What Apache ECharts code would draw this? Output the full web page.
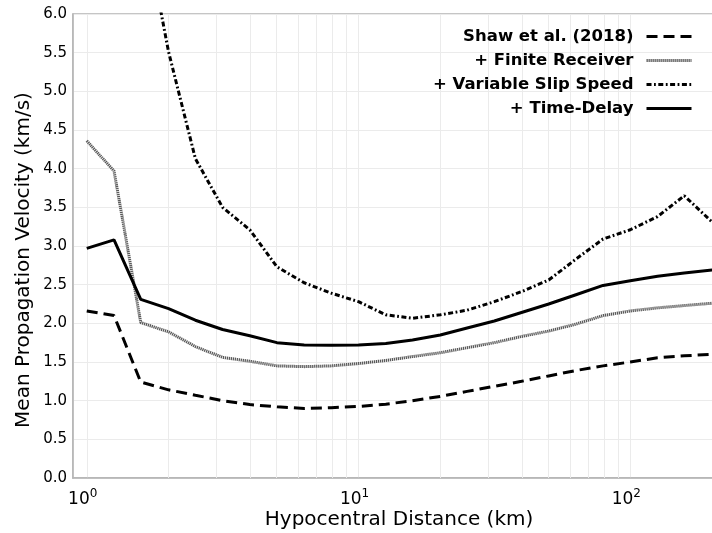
<!DOCTYPE html>
<html>
<head>
<meta charset="utf-8">
<style>
  html, body { margin: 0; padding: 0; background: #ffffff; }
  #chart { width: 712px; height: 533px; }
</style>
<script src="https://cdn.jsdelivr.net/npm/echarts@6/dist/echarts.min.js"></script>
</head>
<body>
<div id="chart"></div>
<script>
// Hypocentral distance (km)
const distances = [1, 1.26, 1.58, 2.0, 2.51, 3.16, 3.98, 5.01, 6.31, 7.94, 10, 12.6, 15.8, 20.0, 25.1, 31.6, 39.8, 50.1, 63.1, 79.4, 100, 126, 158, 200];
// Mean propagation velocity (km/s)
const shaw2018 = [2.16, 2.10, 1.24, 1.14, 1.07, 1.00, 0.95, 0.92, 0.90, 0.91, 0.925, 0.955, 1.00, 1.055, 1.12, 1.185, 1.25, 1.32, 1.39, 1.45, 1.50, 1.555, 1.58, 1.60];
const finiteReceiver = [4.36, 3.97, 2.01, 1.89, 1.70, 1.56, 1.51, 1.45, 1.44, 1.45, 1.48, 1.52, 1.57, 1.62, 1.685, 1.75, 1.83, 1.90, 1.99, 2.10, 2.16, 2.20, 2.23, 2.26];
const variableSlipSpeed = [null, null, 7.4, 5.51, 4.13, 3.50, 3.21, 2.73, 2.525, 2.39, 2.28, 2.11, 2.065, 2.11, 2.17, 2.28, 2.41, 2.56, 2.83, 3.09, 3.21, 3.38, 3.65, 3.31];
const timeDelay = [2.97, 3.08, 2.31, 2.19, 2.04, 1.92, 1.84, 1.75, 1.72, 1.715, 1.72, 1.74, 1.785, 1.85, 1.94, 2.03, 2.14, 2.25, 2.37, 2.49, 2.55, 2.61, 2.65, 2.69];

const seriesNames = ['Shaw et al. (2018)', '+ Finite Receiver', '+ Variable Slip Speed', '+ Time-Delay'];
// minor log gridlines
const minorGridValues = [2, 3, 4, 5, 6, 7, 8, 9, 20, 30, 40, 50, 60, 70, 80, 90, 200];

function pairs(ys) {
  const out = [];
  for (let i = 0; i < distances.length; i++) {
    if (ys[i] !== null) out.push([distances[i], ys[i]]);
  }
  return out;
}

const GRID_COLOR = '#ebebeb';
const AXIS_COLOR = '#b3b3b3';
const FONT = 'DejaVu Sans';

const chart = echarts.init(document.getElementById('chart'), null, { renderer: 'canvas' });

const option = {
  animation: false,
  backgroundColor: '#ffffff',
  grid: {
    left: 73, right: -3, top: 14, bottom: 55,
    show: true, borderColor: AXIS_COLOR, borderWidth: 1.5,
    containLabel: false,
    outerBoundsMode: 'none'
  },
  legend: {
    orient: 'vertical',
    right: 14,
    top: 23,
    align: 'right',
    itemWidth: 45,
    itemHeight: 14,
    itemGap: 7,
    data: seriesNames,
    lineStyle: { width: 3 },
    textStyle: {
      fontFamily: FONT,
      fontWeight: 'bold',
      fontSize: 16.5,
      lineHeight: 15.6,
      color: '#000',
      padding: [0, 8, 0, 0]
    }
  },
  xAxis: {
    type: 'log',
    logBase: 10,
    min: 0.89,
    max: 205,
    name: 'Hypocentral Distance (km)',
    nameLocation: 'middle',
    nameMoveOverlap: false,
    nameGap: 32,
    nameTextStyle: { fontFamily: FONT, fontSize: 20, color: '#000', padding: [0, 0, 0, 10] },
    axisLine: { show: true, lineStyle: { color: AXIS_COLOR, width: 1.5 } },
    axisTick: { show: false },
    splitLine: { show: true, lineStyle: { color: GRID_COLOR, width: 1 } },
    minorSplitLine: { show: false },
    axisLabel: {
      showMinLabel: false,
      showMaxLabel: false,
      margin: 10,
      padding: [0, 8, 0, 0],
      formatter: function (v) {
        const e = Math.log10(v);
        const r = Math.round(e);
        if (Math.abs(e - r) > 1e-6) return '';
        return '{b|10}{s|' + r + '}';
      },
      rich: {
        b: { fontFamily: FONT, fontSize: 17, color: '#000', verticalAlign: 'bottom', lineHeight: 20 },
        s: { fontFamily: FONT, fontSize: 12, color: '#000', verticalAlign: 'top', lineHeight: 20, padding: [0, 0, 10, 0] }
      }
    }
  },
  yAxis: {
    type: 'value',
    min: 0,
    max: 6,
    interval: 0.5,
    name: 'Mean Propagation Velocity (km/s)',
    nameLocation: 'middle',
    nameMoveOverlap: false,
    nameGap: 39,
    nameTextStyle: { fontFamily: FONT, fontSize: 20, color: '#000', padding: [0, 28, 0, 0] },
    axisLine: { show: true, lineStyle: { color: AXIS_COLOR, width: 1.5 } },
    axisTick: { show: false },
    splitLine: { show: true, lineStyle: { color: GRID_COLOR, width: 1 } },
    axisLabel: {
      fontFamily: FONT,
      fontSize: 15,
      color: '#000',
      margin: 6,
      formatter: function (v) { return v.toFixed(1); }
    }
  },
  series: [
    {
      name: seriesNames[0],
      type: 'line',
      data: pairs(shaw2018),
      symbol: 'none',
      z: 3,
      lineStyle: { color: '#000', width: 3, type: [11, 6] },
      itemStyle: { color: '#000', opacity: 0 },
      markLine: {
        silent: true,
        symbol: 'none',
        z: 1,
        label: { show: false },
        lineStyle: { color: GRID_COLOR, width: 1, type: 'solid', opacity: 1 },
        emphasis: { disabled: true },
        data: minorGridValues.map(function (v) { return { xAxis: v }; })
      }
    },
    {
      name: seriesNames[1],
      type: 'line',
      data: pairs(finiteReceiver),
      symbol: 'none',
      z: 3,
      lineStyle: { color: '#5a5a5a', width: 3, type: [1.3, 0.7] },
      itemStyle: { color: '#5a5a5a', opacity: 0 }
    },
    {
      name: seriesNames[2],
      type: 'line',
      data: pairs(variableSlipSpeed),
      symbol: 'none',
      z: 3,
      clip: true,
      lineStyle: { color: '#000', width: 3, type: [5, 2.5, 1.8, 2.5] },
      itemStyle: { color: '#000', opacity: 0 }
    },
    {
      name: seriesNames[3],
      type: 'line',
      data: pairs(timeDelay),
      symbol: 'none',
      z: 3,
      lineStyle: { color: '#000', width: 3, type: 'solid' },
      itemStyle: { color: '#000', opacity: 0 }
    }
  ]
};

chart.setOption(option);
</script>
</body>
</html>
